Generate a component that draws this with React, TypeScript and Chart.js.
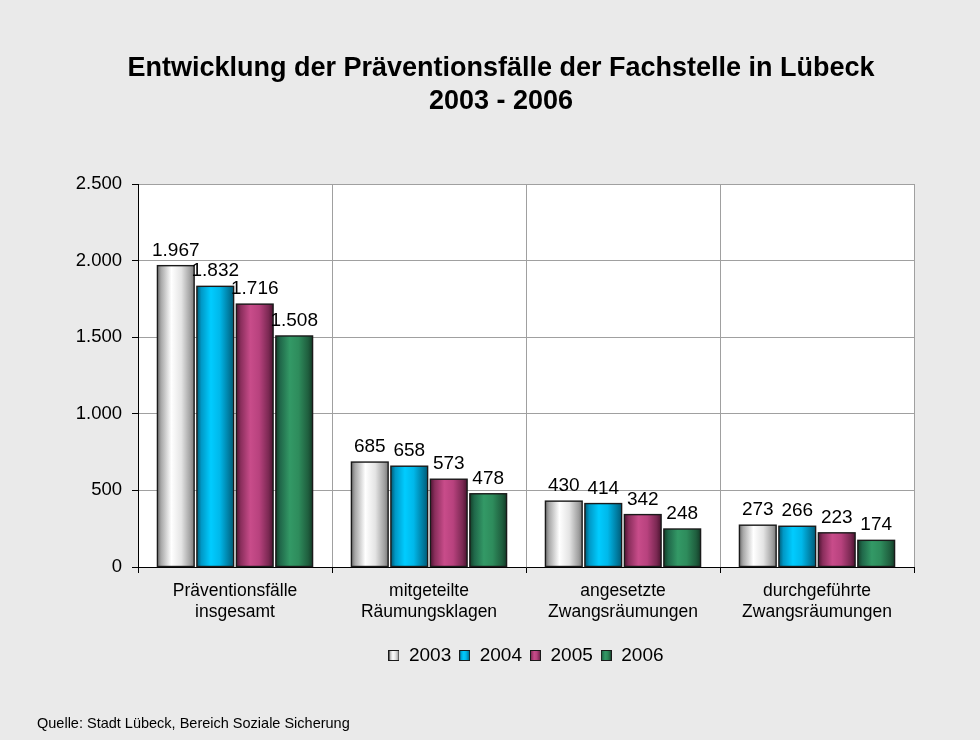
import React, { useEffect, useRef } from 'react';
import { Chart, registerables } from 'chart.js';

Chart.register(...registerables);

const categories = [
  ['Präventionsfälle', 'insgesamt'],
  ['mitgeteilte', 'Räumungsklagen'],
  ['angesetzte', 'Zwangsräumungen'],
  ['durchgeführte', 'Zwangsräumungen'],
];
const years = ['2003', '2004', '2005', '2006'];
const values2003 = [1967, 685, 430, 273];
const values2004 = [1832, 658, 414, 266];
const values2005 = [1716, 573, 342, 223];
const values2006 = [1508, 478, 248, 174];
const seriesValues = [values2003, values2004, values2005, values2006];
const yMin = 0;
const yMax = 2500;
const yStep = 500;
const titleLines = ['Entwicklung der Präventionsfälle der Fachstelle in Lübeck', '2003 - 2006'];
const sourceText = 'Quelle: Stadt Lübeck, Bereich Soziale Sicherung';

const midColors = ['#e0e0e0', '#00c4f4', '#c04a86', '#2f9060'];
const gradientStops: [number, string][][] = [
  [[0, '#6e6e6e'], [0.1, '#a8a8a8'], [0.38, '#ffffff'], [0.65, '#e4e4e4'], [0.9, '#a0a0a0'], [1, '#7a7a7a']],
  [[0, '#005a74'], [0.12, '#0098c6'], [0.38, '#00ccff'], [0.62, '#00b8ea'], [0.88, '#007a9e'], [1, '#005c78']],
  [[0, '#4e1532'], [0.12, '#8a2e5c'], [0.38, '#c84c8a'], [0.62, '#b8427e'], [0.88, '#7a2852'], [1, '#4c1430']],
  [[0, '#133f28'], [0.12, '#20684a'], [0.38, '#339966'], [0.62, '#2e8c5c'], [0.88, '#1f5e3e'], [1, '#143c28']],
];

const FONT = "'Liberation Sans', Arial, Helvetica, sans-serif";

const fmt = (v: number) => String(v).replace(/\B(?=(\d{3})+(?!\d))/g, '.');

function makeLegendIcon(i: number): HTMLCanvasElement {
  const c = document.createElement('canvas');
  c.width = 11;
  c.height = 11;
  const g = c.getContext('2d')!;
  const grad = g.createLinearGradient(0, 0, 11, 0);
  gradientStops[i].forEach(([o, col]) => grad.addColorStop(o, col));
  g.fillStyle = grad;
  g.fillRect(0, 0, 11, 11);
  g.strokeStyle = '#1a1a1a';
  g.lineWidth = 1;
  g.strokeRect(0.5, 0.5, 10, 10);
  return c;
}

const decorPlugin = {
  id: 'decor',
  beforeDraw(chart: any) {
    const { ctx, width, height, chartArea } = chart;
    ctx.save();
    ctx.fillStyle = '#eaeaea';
    ctx.fillRect(0, 0, width, height);
    ctx.fillStyle = '#ffffff';
    ctx.fillRect(chartArea.left, chartArea.top, chartArea.right - chartArea.left, chartArea.bottom - chartArea.top);
    ctx.restore();
  },
  afterDatasetsDraw(chart: any) {
    const { ctx } = chart;
    ctx.save();
    chart.data.datasets.forEach((ds: any, i: number) => {
      const meta = chart.getDatasetMeta(i);
      meta.data.forEach((el: any, j: number) => {
        const { x, y, base, width } = el.getProps(['x', 'y', 'base', 'width'], true);
        const left = x - width / 2;
        const grad = ctx.createLinearGradient(left, 0, left + width, 0);
        gradientStops[i].forEach(([o, col]) => grad.addColorStop(o, col));
        ctx.fillStyle = grad;
        ctx.fillRect(left, y, width, base - y);
        ctx.strokeStyle = '#1a1a1a';
        ctx.lineWidth = 1.4;
        ctx.strokeRect(left, y, width, base - y);
        ctx.fillStyle = '#000';
        ctx.font = `19px ${FONT}`;
        ctx.textAlign = 'center';
        ctx.textBaseline = 'alphabetic';
        ctx.fillText(fmt(ds.data[j]), x, y - 10);
      });
    });
    ctx.restore();
  },
  afterDraw(chart: any) {
    const { ctx } = chart;
    ctx.save();
    ctx.fillStyle = '#000';
    ctx.textAlign = 'center';
    ctx.textBaseline = 'alphabetic';
    ctx.font = `bold 27px ${FONT}`;
    ctx.fillText(titleLines[0], 501, 76);
    ctx.fillText(titleLines[1], 501, 109);
    ctx.font = `14.5px ${FONT}`;
    ctx.textAlign = 'left';
    ctx.fillText(sourceText, 37, 728);
    ctx.restore();
  },
};

export default function App() {
  const ref = useRef<HTMLCanvasElement | null>(null);

  useEffect(() => {
    document.body.style.margin = '0';
    const canvas = ref.current;
    if (!canvas) return;
    const icons = years.map((_, i) => makeLegendIcon(i));
    const chart = new Chart(canvas, {
      type: 'bar',
      data: {
        labels: categories,
        datasets: years.map((y, i) => ({
          label: y,
          data: seriesValues[i],
          backgroundColor: midColors[i],
          borderColor: '#1a1a1a',
          borderWidth: 1,
          categoryPercentage: 0.814,
          barPercentage: 0.93,
        })),
      },
      options: {
        animation: false,
        responsive: false,
        devicePixelRatio: 1,
        layout: { padding: { left: 0, right: 66, top: 184, bottom: 65 } },
        plugins: {
          tooltip: { enabled: false },
          title: { display: false },
          legend: {
            position: 'bottom',
            fullSize: false,
            labels: {
              color: '#000',
              font: { family: FONT, size: 19 },
              usePointStyle: true,
              boxWidth: 11,
              boxHeight: 11,
              padding: 8,
              generateLabels: (ch: any) =>
                Chart.defaults.plugins.legend.labels.generateLabels(ch).map((it: any, i: number) => ({
                  ...it,
                  pointStyle: icons[i],
                })),
            },
          },
        },
        scales: {
          x: {
            grid: { color: '#a0a0a0', tickColor: '#000', tickLength: 6, offset: true },
            border: { color: '#000', width: 1 },
            ticks: { color: '#000', font: { family: FONT, size: 17.5, lineHeight: 1.2 }, padding: 8, maxRotation: 0 },
            afterFit: (s: any) => {
              s.height = 71;
            },
          },
          y: {
            min: yMin,
            max: yMax,
            ticks: {
              stepSize: yStep,
              color: '#000',
              font: { family: FONT, size: 18.5 },
              padding: 10,
              callback: (v: any) => fmt(Number(v)),
            },
            grid: { color: '#a0a0a0', tickColor: '#000', tickLength: 6 },
            border: { color: '#000', width: 1 },
            afterFit: (s: any) => {
              s.width = 138;
            },
          },
        },
      },
      plugins: [decorPlugin],
    } as any);
    return () => chart.destroy();
  }, []);

  return (
    <div style={{ width: 980, height: 740 }}>
      <canvas ref={ref} width={980} height={740} style={{ display: 'block' }} />
    </div>
  );
}
